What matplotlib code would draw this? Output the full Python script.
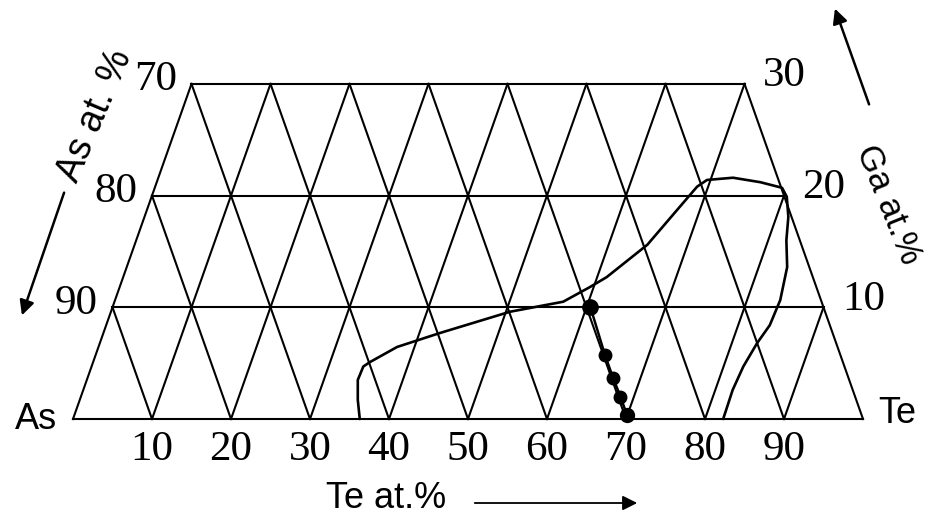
import matplotlib.pyplot as plt
import numpy as np

# grid values (at.%)
te_ticks = [10, 20, 30, 40, 50, 60, 70, 80, 90]
ga_levels = [10, 20, 30]
as_labels = ['70', '80', '90']
ga_labels = ['30', '20', '10']

# liquidus-like curve (Te at.%, Ga at.%)
curve_te = [36.3, 35.2, 34.3, 34.4, 35.05, 37.8, 42.6, 50.5, 56.8, 59.5, 61.2,
            64.9, 67.1, 68.6, 69.55, 72.75, 76.4, 79.4, 80.4, 81.5, 82.3, 83.6,
            84.2, 84.0, 83.2, 82.5, 82.2, 82.3]
curve_ga = [0, 1.7, 3.5, 4.7, 5.1, 6.45, 7.7, 9.6, 10.5, 11.8, 12.7,
            15.6, 18.7, 20.8, 21.4, 21.6, 21.2, 20.7, 19.9, 18.1, 16.0, 13.6,
            10.65, 8.4, 6.8, 4.7, 2.6, 0]

# experimental points
dots_te = [60.5, 64.5, 66.5, 68.3, 69.9]
dots_ga = [10.0, 5.7, 3.7, 2.0, 0.4]
dots_size = [11, 9, 9, 9, 10]


def tern(te, ga):
    te = np.asarray(te, dtype=float)
    ga = np.asarray(ga, dtype=float)
    return te + ga / 2, ga


def fp(x, y):
    # image pixel -> figure pixels
    return (x, 521 - y)


fig = plt.figure(figsize=(9.3, 5.21), dpi=100)
ax = fig.add_axes([0, 0, 1, 1])
ax.set_xlim(-9.24, 108.48)
ax.set_ylim(-9.13, 37.51)
ax.axis('off')

lw = 1.5
# base and horizontal lines
x, y = tern([0, 100], [0, 0])
ax.plot(x, y, color='k', lw=lw)
for g in ga_levels:
    x, y = tern([0, 100 - g], [g, g])
    ax.plot(x, y, color='k', lw=lw)
# constant Te lines
for t in [0] + te_ticks:
    top = min(30, 100 - t)
    x, y = tern([t, t], [0, top])
    ax.plot(x, y, color='k', lw=lw)
# constant As lines
for s in te_ticks + [100]:
    top = min(30, s)
    x, y = tern([s, s - top], [0, top])
    ax.plot(x, y, color='k', lw=lw)

# curve
x, y = tern(curve_te, curve_ga)
ax.plot(x, y, color='k', lw=1.9, solid_capstyle='round', solid_joinstyle='round')

# dots
x, y = tern(dots_te, dots_ga)
ax.plot(x, y, color='k', lw=1.8)
for xi, yi, s in zip(x, y, dots_size):
    ax.plot(xi, yi, 'o', color='k', ms=s)

serif = 'Liberation Serif'
sans = 'Liberation Sans'

# Te ticks
for t in te_ticks:
    ax.annotate(str(t), xy=tern(t, 0), xytext=(0, -31), textcoords='offset pixels',
                ha='center', va='center', fontsize=31, family=serif)
# As ticks (left edge)
for g, lab in zip(ga_levels, as_labels[::-1]):
    ax.annotate(lab, xy=tern(0, g), xytext=(-36, 4), textcoords='offset pixels',
                ha='center', va='center', fontsize=31, family=serif)
# Ga ticks (right edge)
for g, lab in zip(ga_levels, ga_labels[::-1]):
    ax.annotate(lab, xy=tern(100 - g, g), xytext=(40, 8), textcoords='offset pixels',
                ha='center', va='center', fontsize=31, family=serif)

# corners
ax.annotate('As', xy=tern(0, 0), xytext=(-37, 0), textcoords='offset pixels',
            ha='center', va='center', fontsize=26, family=sans)
ax.annotate('Te', xy=tern(100, 0), xytext=(34, 6), textcoords='offset pixels',
            ha='center', va='center', fontsize=26, family=sans)

# axis titles
ax.annotate('Te at.%', xy=fp(386, 499), xycoords='figure pixels',
            ha='center', va='center', fontsize=26, family=sans)
ax.annotate('', xy=fp(640, 503), xytext=fp(472, 503), xycoords='figure pixels',
            arrowprops=dict(arrowstyle='-|>', color='k', lw=1.3, mutation_scale=22))

ax.annotate('As at. %', xy=fp(95, 116), xycoords='figure pixels', rotation=67,
            ha='center', va='center', fontsize=27, family=sans)
ax.annotate('', xy=fp(21, 318), xytext=fp(65, 190), xycoords='figure pixels',
            arrowprops=dict(arrowstyle='-|>', color='k', lw=1.8, mutation_scale=22))

ax.annotate('Ga at.%', xy=fp(888, 205), xycoords='figure pixels', rotation=-68,
            ha='center', va='center', fontsize=25, family=sans)
ax.annotate('', xy=fp(834, 6), xytext=fp(870, 107), xycoords='figure pixels',
            arrowprops=dict(arrowstyle='-|>', color='k', lw=1.8, mutation_scale=22))

plt.savefig('out.png', dpi=100)
